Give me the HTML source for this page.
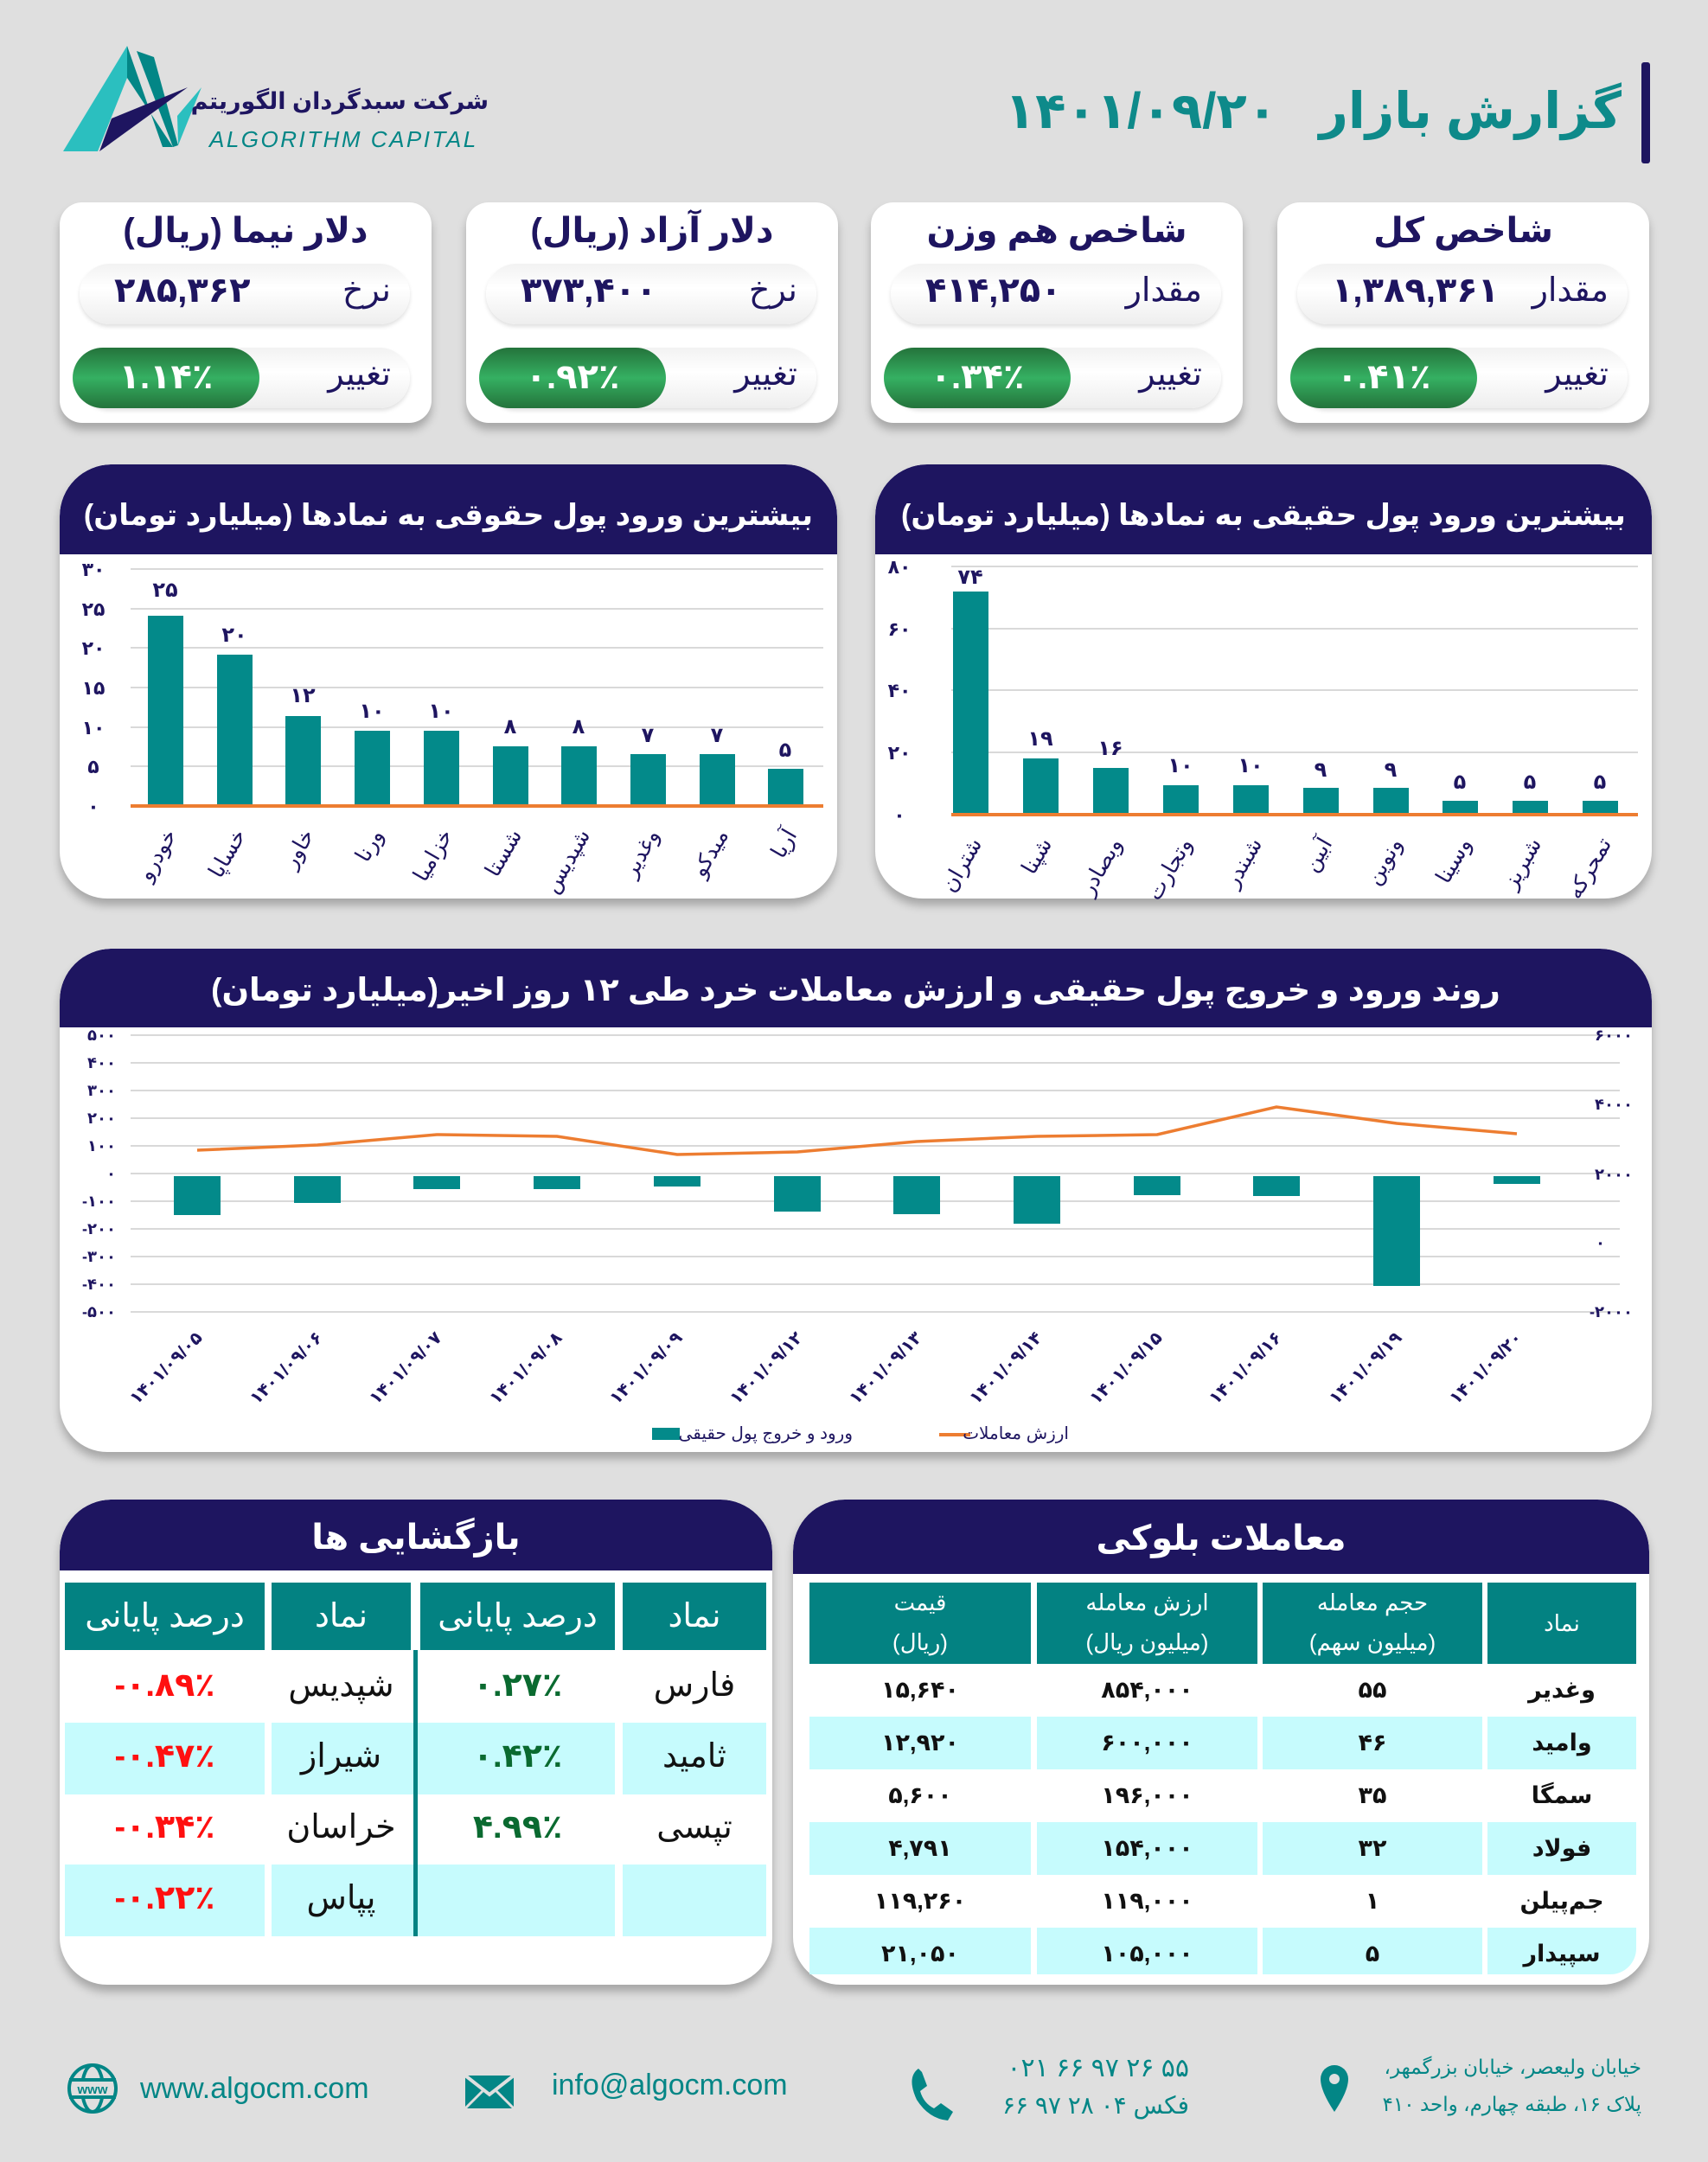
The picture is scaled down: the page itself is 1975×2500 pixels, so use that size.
<!DOCTYPE html>
<html><head><meta charset="utf-8">
<style>
*{margin:0;padding:0;box-sizing:border-box}
body{width:1975px;height:2500px;background:#dfdfdf;position:relative;overflow:hidden;font-family:"Liberation Sans","DejaVu Sans",sans-serif;color:#1e1560}
.a{position:absolute}
.card{position:absolute;top:234px;width:430px;height:255px;background:#fff;border-radius:26px;box-shadow:0 8px 10px rgba(0,0,0,.25)}
.ct{position:absolute;top:10px;left:0;width:100%;text-align:center;font-size:40px;font-weight:bold;direction:rtl}
.pill{position:absolute;left:23px;width:382px;height:70px;border-radius:35px;background:linear-gradient(#f2f2f2,#fff 40%,#eee);box-shadow:0 3px 5px rgba(0,0,0,.12)}
.pl{position:absolute;right:22px;top:8px;font-size:38px;direction:rtl}
.pv{position:absolute;left:40px;top:8px;font-size:40px;font-weight:bold}
.gp{position:absolute;left:15px;width:216px;height:70px;border-radius:35px;background:linear-gradient(#24733b,#35b062 50%,#24733b);color:#fff;font-size:40px;text-align:center;line-height:68px;font-weight:bold}
.panel{position:absolute;background:#fff;border-radius:60px 60px 55px 55px;box-shadow:0 8px 10px rgba(0,0,0,.25);overflow:hidden}
.ph{position:absolute;left:0;top:0;width:100%;background:#1e1560;color:#fff;font-weight:bold;text-align:center;direction:rtl;border-radius:60px 60px 0 0;white-space:nowrap}
</style></head><body>

<!-- logo -->
<svg class="a" style="left:60px;top:40px" width="540" height="150">
<polygon points="13,135 87,13 87,50 53,135" fill="#2bbfbf"/>
<polygon points="87,13 87,50 140,130 128,130" fill="#038686"/>
<polygon points="98,19 118,26 146,128 140,130" fill="#038686"/>
<polygon points="55,135 69,97 157,61" fill="#1e1560"/>
<polygon points="146,128 145,94 173,61" fill="#2bbfbf"/>
<text x="182" y="130" font-size="26" font-style="italic" fill="#038686" letter-spacing="2.5" font-family="Liberation Sans,sans-serif">ALGORITHM CAPITAL</text>
</svg>
<div class="a" style="left:240px;top:102px;width:325px;text-align:right;direction:rtl;font-size:27px;font-weight:bold;color:#1e1560;white-space:nowrap">شرکت سبدگردان الگوریتم</div>

<!-- title -->
<div class="a" style="left:1200px;top:94px;width:675px;text-align:right;direction:rtl;font-size:58px;font-weight:bold;color:#0e8a8a;white-space:nowrap">گزارش بازار&nbsp;&nbsp; ۱۴۰۱/۰۹/۲۰</div>
<div class="a" style="left:1898px;top:72px;width:10px;height:117px;background:#1e1560;border-radius:3px"></div>

<!-- cards -->
<div class="card" style="left:69px"><div class="ct">دلار نیما (ریال)</div>
<div class="pill" style="top:71px"><div class="pl">نرخ</div><div class="pv">۲۸۵,۳۶۲</div></div>
<div class="pill" style="top:168px"><div class="pl">تغییر</div></div><div class="gp" style="top:168px">۱.۱۴٪</div></div>
<div class="card" style="left:539px"><div class="ct">دلار آزاد (ریال)</div>
<div class="pill" style="top:71px"><div class="pl">نرخ</div><div class="pv">۳۷۳,۴۰۰</div></div>
<div class="pill" style="top:168px"><div class="pl">تغییر</div></div><div class="gp" style="top:168px">۰.۹۲٪</div></div>
<div class="card" style="left:1007px"><div class="ct">شاخص هم وزن</div>
<div class="pill" style="top:71px"><div class="pl">مقدار</div><div class="pv">۴۱۴,۲۵۰</div></div>
<div class="pill" style="top:168px"><div class="pl">تغییر</div></div><div class="gp" style="top:168px">۰.۳۴٪</div></div>
<div class="card" style="left:1477px"><div class="ct">شاخص کل</div>
<div class="pill" style="top:71px"><div class="pl">مقدار</div><div class="pv">۱,۳۸۹,۳۶۱</div></div>
<div class="pill" style="top:168px"><div class="pl">تغییر</div></div><div class="gp" style="top:168px">۰.۴۱٪</div></div>

<!-- left chart panel -->
<div class="panel" style="left:69px;top:537px;width:899px;height:502px">
<div class="ph" style="height:104px;font-size:34px;line-height:118px">بیشترین ورود پول حقوقی به نمادها (میلیارد تومان)</div></div>
<svg class="a" style="left:0;top:0" width="1975" height="1100" font-family="Liberation Sans,DejaVu Sans,sans-serif">
<g stroke="#d9d9d9" stroke-width="2">
<line x1="151" x2="952" y1="658" y2="658"/><line x1="151" x2="952" y1="704" y2="704"/><line x1="151" x2="952" y1="749" y2="749"/><line x1="151" x2="952" y1="795" y2="795"/><line x1="151" x2="952" y1="841" y2="841"/><line x1="151" x2="952" y1="886" y2="886"/>
</g>
<g fill="#1e1560" font-size="22" font-weight="bold" text-anchor="middle">
<text x="108" y="666">۳۰</text><text x="108" y="712">۲۵</text><text x="108" y="757">۲۰</text><text x="108" y="803">۱۵</text><text x="108" y="849">۱۰</text><text x="108" y="894">۵</text><text x="108" y="940">۰</text>
</g>
<g fill="#038a8a">
<rect x="171" y="712" width="41" height="220"/><rect x="251" y="757" width="41" height="175"/><rect x="330" y="828" width="41" height="104"/><rect x="410" y="845" width="41" height="87"/><rect x="490" y="845" width="41" height="87"/><rect x="570" y="863" width="41" height="69"/><rect x="649" y="863" width="41" height="69"/><rect x="729" y="872" width="41" height="60"/><rect x="809" y="872" width="41" height="60"/><rect x="888" y="889" width="41" height="43"/>
</g>
<line x1="151" x2="952" y1="932" y2="932" stroke="#ed7d31" stroke-width="4"/>
<g fill="#1e1560" font-size="24" font-weight="bold" text-anchor="middle">
<text x="191" y="690">۲۵</text><text x="271" y="742">۲۰</text><text x="350" y="812">۱۲</text><text x="430" y="830">۱۰</text><text x="510" y="830">۱۰</text><text x="590" y="848">۸</text><text x="669" y="848">۸</text><text x="749" y="858">۷</text><text x="829" y="858">۷</text><text x="908" y="875">۵</text>
</g>
<g fill="#1e1560" font-size="25" text-anchor="end">
<text transform="translate(205,965) rotate(-60)">خودرو</text><text transform="translate(285,965) rotate(-60)">خساپا</text><text transform="translate(364,965) rotate(-60)">خاور</text><text transform="translate(444,965) rotate(-60)">ورنا</text><text transform="translate(524,965) rotate(-60)">خزامیا</text><text transform="translate(604,965) rotate(-60)">شستا</text><text transform="translate(683,965) rotate(-60)">شپدیس</text><text transform="translate(763,965) rotate(-60)">وغدیر</text><text transform="translate(843,965) rotate(-60)">میدکو</text><text transform="translate(922,965) rotate(-60)">آریا</text>
</g>
</svg>

<!-- right chart panel -->
<div class="panel" style="left:1012px;top:537px;width:898px;height:502px">
<div class="ph" style="height:104px;font-size:34px;line-height:118px">بیشترین ورود پول حقیقی به نمادها (میلیارد تومان)</div></div>
<svg class="a" style="left:0;top:0" width="1975" height="1100" font-family="Liberation Sans,DejaVu Sans,sans-serif">
<g stroke="#d9d9d9" stroke-width="2">
<line x1="1100" x2="1894" y1="655" y2="655"/><line x1="1100" x2="1894" y1="727" y2="727"/><line x1="1100" x2="1894" y1="798" y2="798"/><line x1="1100" x2="1894" y1="870" y2="870"/>
</g>
<g fill="#1e1560" font-size="22" font-weight="bold" text-anchor="middle">
<text x="1040" y="663">۸۰</text><text x="1040" y="735">۶۰</text><text x="1040" y="806">۴۰</text><text x="1040" y="878">۲۰</text><text x="1040" y="950">۰</text>
</g>
<g fill="#038a8a">
<rect x="1102" y="684" width="41" height="258"/><rect x="1183" y="877" width="41" height="65"/><rect x="1264" y="888" width="41" height="54"/><rect x="1345" y="908" width="41" height="34"/><rect x="1426" y="908" width="41" height="34"/><rect x="1507" y="911" width="41" height="31"/><rect x="1588" y="911" width="41" height="31"/><rect x="1668" y="926" width="41" height="16"/><rect x="1749" y="926" width="41" height="16"/><rect x="1830" y="926" width="41" height="16"/>
</g>
<line x1="1100" x2="1894" y1="942" y2="942" stroke="#ed7d31" stroke-width="4"/>
<g fill="#1e1560" font-size="24" font-weight="bold" text-anchor="middle">
<text x="1122" y="675">۷۴</text><text x="1203" y="862">۱۹</text><text x="1284" y="873">۱۶</text><text x="1365" y="893">۱۰</text><text x="1446" y="893">۱۰</text><text x="1527" y="898">۹</text><text x="1608" y="898">۹</text><text x="1688" y="912">۵</text><text x="1769" y="912">۵</text><text x="1850" y="912">۵</text>
</g>
<g fill="#1e1560" font-size="25" text-anchor="end">
<text transform="translate(1136,975) rotate(-60)">شتران</text><text transform="translate(1217,975) rotate(-60)">شپنا</text><text transform="translate(1298,975) rotate(-60)">وبصادر</text><text transform="translate(1379,975) rotate(-60)">وتجارت</text><text transform="translate(1460,975) rotate(-60)">شبندر</text><text transform="translate(1541,975) rotate(-60)">آبین</text><text transform="translate(1622,975) rotate(-60)">ونوین</text><text transform="translate(1702,975) rotate(-60)">وسینا</text><text transform="translate(1783,975) rotate(-60)">شبریز</text><text transform="translate(1864,975) rotate(-60)">تمحرکه</text>
</g>
</svg>

<!-- trend panel -->
<div class="panel" style="left:69px;top:1097px;width:1841px;height:582px">
<div class="ph" style="height:91px;font-size:37px;line-height:96px">روند ورود و خروج پول حقیقی و ارزش معاملات خرد طی ۱۲ روز اخیر(میلیارد تومان)</div></div>
<svg class="a" style="left:0;top:1100px" width="1975" height="600" font-family="Liberation Sans,DejaVu Sans,sans-serif">
<g transform="translate(0,-1100)">
<g stroke="#d9d9d9" stroke-width="2">
<line x1="151" x2="1873" y1="1197" y2="1197"/><line x1="151" x2="1873" y1="1229" y2="1229"/><line x1="151" x2="1873" y1="1261" y2="1261"/><line x1="151" x2="1873" y1="1293" y2="1293"/><line x1="151" x2="1873" y1="1325" y2="1325"/><line x1="151" x2="1873" y1="1357" y2="1357"/><line x1="151" x2="1873" y1="1389" y2="1389"/><line x1="151" x2="1873" y1="1421" y2="1421"/><line x1="151" x2="1873" y1="1453" y2="1453"/><line x1="151" x2="1873" y1="1485" y2="1485"/><line x1="151" x2="1873" y1="1517" y2="1517"/>
</g>
<g fill="#1e1560" font-size="18" font-weight="bold" text-anchor="end">
<text x="134" y="1203">۵۰۰</text><text x="134" y="1235">۴۰۰</text><text x="134" y="1267">۳۰۰</text><text x="134" y="1299">۲۰۰</text><text x="134" y="1331">۱۰۰</text><text x="134" y="1363">۰</text><text x="134" y="1395">-۱۰۰</text><text x="134" y="1427">-۲۰۰</text><text x="134" y="1459">-۳۰۰</text><text x="134" y="1491">-۴۰۰</text><text x="134" y="1523">-۵۰۰</text>
<text x="1888" y="1203">۶۰۰۰</text><text x="1888" y="1283">۴۰۰۰</text><text x="1888" y="1364">۲۰۰۰</text><text x="1856" y="1443">۰</text><text x="1888" y="1523">-۲۰۰۰</text>
</g>
<g fill="#038a8a">
<rect x="201" y="1360" width="54" height="45"/><rect x="340" y="1360" width="54" height="31"/><rect x="478" y="1360" width="54" height="15"/><rect x="617" y="1360" width="54" height="15"/><rect x="756" y="1360" width="54" height="12"/><rect x="895" y="1360" width="54" height="41"/><rect x="1033" y="1360" width="54" height="44"/><rect x="1172" y="1360" width="54" height="55"/><rect x="1311" y="1360" width="54" height="22"/><rect x="1449" y="1360" width="54" height="23"/><rect x="1588" y="1360" width="54" height="127"/><rect x="1727" y="1360" width="54" height="9"/>
</g>
<polyline fill="none" stroke="#ed7d31" stroke-width="3.5" points="228,1330 367,1324 505,1312 644,1314 783,1335 922,1332 1060,1320 1199,1314 1338,1312 1476,1280 1615,1299 1754,1311"/>
<g fill="#1e1560" font-size="20" font-weight="bold" text-anchor="end">
<text transform="translate(235,1548) rotate(-45)">۱۴۰۱/۰۹/۰۵</text><text transform="translate(374,1548) rotate(-45)">۱۴۰۱/۰۹/۰۶</text><text transform="translate(512,1548) rotate(-45)">۱۴۰۱/۰۹/۰۷</text><text transform="translate(651,1548) rotate(-45)">۱۴۰۱/۰۹/۰۸</text><text transform="translate(790,1548) rotate(-45)">۱۴۰۱/۰۹/۰۹</text><text transform="translate(929,1548) rotate(-45)">۱۴۰۱/۰۹/۱۲</text><text transform="translate(1067,1548) rotate(-45)">۱۴۰۱/۰۹/۱۳</text><text transform="translate(1206,1548) rotate(-45)">۱۴۰۱/۰۹/۱۴</text><text transform="translate(1345,1548) rotate(-45)">۱۴۰۱/۰۹/۱۵</text><text transform="translate(1483,1548) rotate(-45)">۱۴۰۱/۰۹/۱۶</text><text transform="translate(1622,1548) rotate(-45)">۱۴۰۱/۰۹/۱۹</text><text transform="translate(1761,1548) rotate(-45)">۱۴۰۱/۰۹/۲۰</text>
</g>
<rect x="754" y="1651" width="32" height="14" fill="#038a8a"/>
<line x1="1086" x2="1122" y1="1659" y2="1659" stroke="#ed7d31" stroke-width="4"/>
</g></svg>
<div class="a" style="left:786px;top:1645px;width:200px;text-align:right;direction:rtl;font-size:20px;white-space:nowrap">ورود و خروج پول حقیقی</div>
<div class="a" style="left:1122px;top:1645px;width:114px;text-align:right;direction:rtl;font-size:20px;white-space:nowrap">ارزش معاملات</div>

<!-- bazgoshaei -->
<div class="panel" style="left:69px;top:1734px;width:824px;height:561px">
<div class="ph" style="height:82px;font-size:40px;line-height:88px">بازگشایی ها</div>
<div class="a" style="left:6px;top:96px;width:231px;height:78px;background:#038282;color:#fff;font-size:38px;text-align:center;line-height:78px;direction:rtl">درصد پایانی</div>
<div class="a" style="left:245px;top:96px;width:161px;height:78px;background:#038282;color:#fff;font-size:38px;text-align:center;line-height:78px">نماد</div>
<div class="a" style="left:417px;top:96px;width:225px;height:78px;background:#038282;color:#fff;font-size:38px;text-align:center;line-height:78px;direction:rtl">درصد پایانی</div>
<div class="a" style="left:651px;top:96px;width:166px;height:78px;background:#038282;color:#fff;font-size:38px;text-align:center;line-height:78px">نماد</div>
<div class="a" style="left:6px;top:258px;width:811px;height:83px;background:#c6fbfd"></div>
<div class="a" style="left:6px;top:422px;width:811px;height:83px;background:#c6fbfd"></div>
<div class="a" style="left:237px;top:174px;width:8px;height:331px;background:#fff"></div>
<div class="a" style="left:642px;top:174px;width:9px;height:331px;background:#fff"></div>
<div class="a" style="left:409px;top:174px;width:5px;height:331px;background:#038282"></div>
<div class="a" style="left:6px;top:174px;width:231px;color:#ff1010;font-size:38px;font-weight:bold;text-align:center">
<div style="height:82px;line-height:82px">-۰.۸۹٪</div><div style="height:82px;line-height:82px">-۰.۴۷٪</div><div style="height:82px;line-height:82px">-۰.۳۴٪</div><div style="height:82px;line-height:82px">-۰.۲۲٪</div></div>
<div class="a" style="left:245px;top:174px;width:161px;color:#111;font-size:38px;text-align:center">
<div style="height:82px;line-height:82px">شپدیس</div><div style="height:82px;line-height:82px">شیراز</div><div style="height:82px;line-height:82px">خراسان</div><div style="height:82px;line-height:82px">پپاس</div></div>
<div class="a" style="left:417px;top:174px;width:225px;color:#0a6a30;font-size:38px;font-weight:bold;text-align:center">
<div style="height:82px;line-height:82px">۰.۲۷٪</div><div style="height:82px;line-height:82px">۰.۴۲٪</div><div style="height:82px;line-height:82px">۴.۹۹٪</div></div>
<div class="a" style="left:651px;top:174px;width:166px;color:#111;font-size:38px;text-align:center">
<div style="height:82px;line-height:82px">فارس</div><div style="height:82px;line-height:82px">ثامید</div><div style="height:82px;line-height:82px">تپسی</div></div>
</div>

<!-- block trades -->
<div class="panel" style="left:917px;top:1734px;width:990px;height:561px">
<div class="ph" style="height:86px;font-size:40px;line-height:90px">معاملات بلوکی</div>
</div>
<div class="a" style="left:936px;top:1830px;width:956px;font-size:26px;color:#fff;text-align:center">
<div class="a" style="left:0;width:256px;height:94px;background:#038282;line-height:46px;direction:rtl">قیمت<br>(ریال)</div>
<div class="a" style="left:263px;width:255px;height:94px;background:#038282;line-height:46px;direction:rtl">ارزش معامله<br>(میلیون ریال)</div>
<div class="a" style="left:524px;width:254px;height:94px;background:#038282;line-height:46px;direction:rtl">حجم معامله<br>(میلیون سهم)</div>
<div class="a" style="left:784px;width:172px;height:94px;background:#038282;line-height:94px">نماد</div>
</div>
<div class="a" style="left:936px;top:1985px;width:956px;height:61px;background:#c6fbfd"></div>
<div class="a" style="left:936px;top:2107px;width:956px;height:61px;background:#c6fbfd"></div>
<div class="a" style="left:936px;top:2229px;width:956px;height:54px;background:#c6fbfd;border-radius:0 0 30px 0"></div>
<div class="a" style="left:1192px;top:1924px;width:7px;height:360px;background:#fff"></div>
<div class="a" style="left:1454px;top:1924px;width:6px;height:360px;background:#fff"></div>
<div class="a" style="left:1714px;top:1924px;width:6px;height:360px;background:#fff"></div>
<div class="a" style="left:936px;top:1924px;width:256px;font-size:27px;font-weight:bold;color:#111;text-align:center">
<div style="height:61px;line-height:61px">۱۵,۶۴۰</div><div style="height:61px;line-height:61px">۱۲,۹۲۰</div><div style="height:61px;line-height:61px">۵,۶۰۰</div><div style="height:61px;line-height:61px">۴,۷۹۱</div><div style="height:61px;line-height:61px">۱۱۹,۲۶۰</div><div style="height:61px;line-height:61px">۲۱,۰۵۰</div></div>
<div class="a" style="left:1199px;top:1924px;width:255px;font-size:27px;font-weight:bold;color:#111;text-align:center">
<div style="height:61px;line-height:61px">۸۵۴,۰۰۰</div><div style="height:61px;line-height:61px">۶۰۰,۰۰۰</div><div style="height:61px;line-height:61px">۱۹۶,۰۰۰</div><div style="height:61px;line-height:61px">۱۵۴,۰۰۰</div><div style="height:61px;line-height:61px">۱۱۹,۰۰۰</div><div style="height:61px;line-height:61px">۱۰۵,۰۰۰</div></div>
<div class="a" style="left:1460px;top:1924px;width:254px;font-size:27px;font-weight:bold;color:#111;text-align:center">
<div style="height:61px;line-height:61px">۵۵</div><div style="height:61px;line-height:61px">۴۶</div><div style="height:61px;line-height:61px">۳۵</div><div style="height:61px;line-height:61px">۳۲</div><div style="height:61px;line-height:61px">۱</div><div style="height:61px;line-height:61px">۵</div></div>
<div class="a" style="left:1720px;top:1924px;width:172px;font-size:27px;font-weight:bold;color:#111;text-align:center">
<div style="height:61px;line-height:61px">وغدیر</div><div style="height:61px;line-height:61px">وامید</div><div style="height:61px;line-height:61px">سمگا</div><div style="height:61px;line-height:61px">فولاد</div><div style="height:61px;line-height:61px">جم‌پیلن</div><div style="height:61px;line-height:61px">سپیدار</div></div>

<!-- footer -->
<svg class="a" style="left:0;top:2370px" width="1975" height="100">
<g fill="none" stroke="#038686" stroke-width="4"><circle cx="107" cy="45" r="27"/><ellipse cx="107" cy="45" rx="12" ry="27"/><line x1="80" x2="134" y1="35" y2="35"/><line x1="80" x2="134" y1="55" y2="55"/></g>
<rect x="90" y="37" width="34" height="16" fill="#dfdfdf"/>
<text x="107" y="51" text-anchor="middle" font-size="15" fill="#038686" font-weight="bold" font-family="Liberation Sans,sans-serif">www</text>
<rect x="538" y="30" width="56" height="38" fill="#038686"/><polyline points="538,30 566,52 594,30" fill="none" stroke="#dfdfdf" stroke-width="4"/><line x1="538" y1="68" x2="558" y2="48" stroke="#dfdfdf" stroke-width="3"/><line x1="594" y1="68" x2="574" y2="48" stroke="#dfdfdf" stroke-width="3"/>
<path d="M1062,22 q-14,10 -2,36 q14,22 36,24 l6,-10 l-14,-10 l-8,6 q-12,-6 -16,-20 l8,-6 l-6,-16z" fill="#038686"/>
<path d="M1543,18 a16,16 0 0 1 16,16 q0,14 -16,38 q-16,-24 -16,-38 a16,16 0 0 1 16,-16z" fill="#038686"/><circle cx="1543" cy="34" r="6" fill="#dfdfdf"/>
</svg>
<div class="a" style="left:162px;top:2396px;font-size:34px;color:#038686">www.algocm.com</div>
<div class="a" style="left:638px;top:2392px;font-size:34px;color:#038686">info@algocm.com</div>
<div class="a" style="left:1100px;top:2374px;width:275px;text-align:right;font-size:30px;color:#038686;direction:ltr">۰۲۱ ۶۶ ۹۷ ۲۶ ۵۵</div>
<div class="a" style="left:1100px;top:2418px;width:275px;text-align:right;font-size:28px;color:#038686;direction:rtl">فکس ۰۴ ۲۸ ۹۷ ۶۶</div>
<div class="a" style="left:1560px;top:2377px;width:338px;text-align:right;font-size:23px;color:#038686;direction:rtl">خیابان ولیعصر، خیابان بزرگمهر،</div>
<div class="a" style="left:1560px;top:2420px;width:338px;text-align:right;font-size:23px;color:#038686;direction:rtl">پلاک ۱۶، طبقه چهارم، واحد ۴۱۰</div>
</body></html>
